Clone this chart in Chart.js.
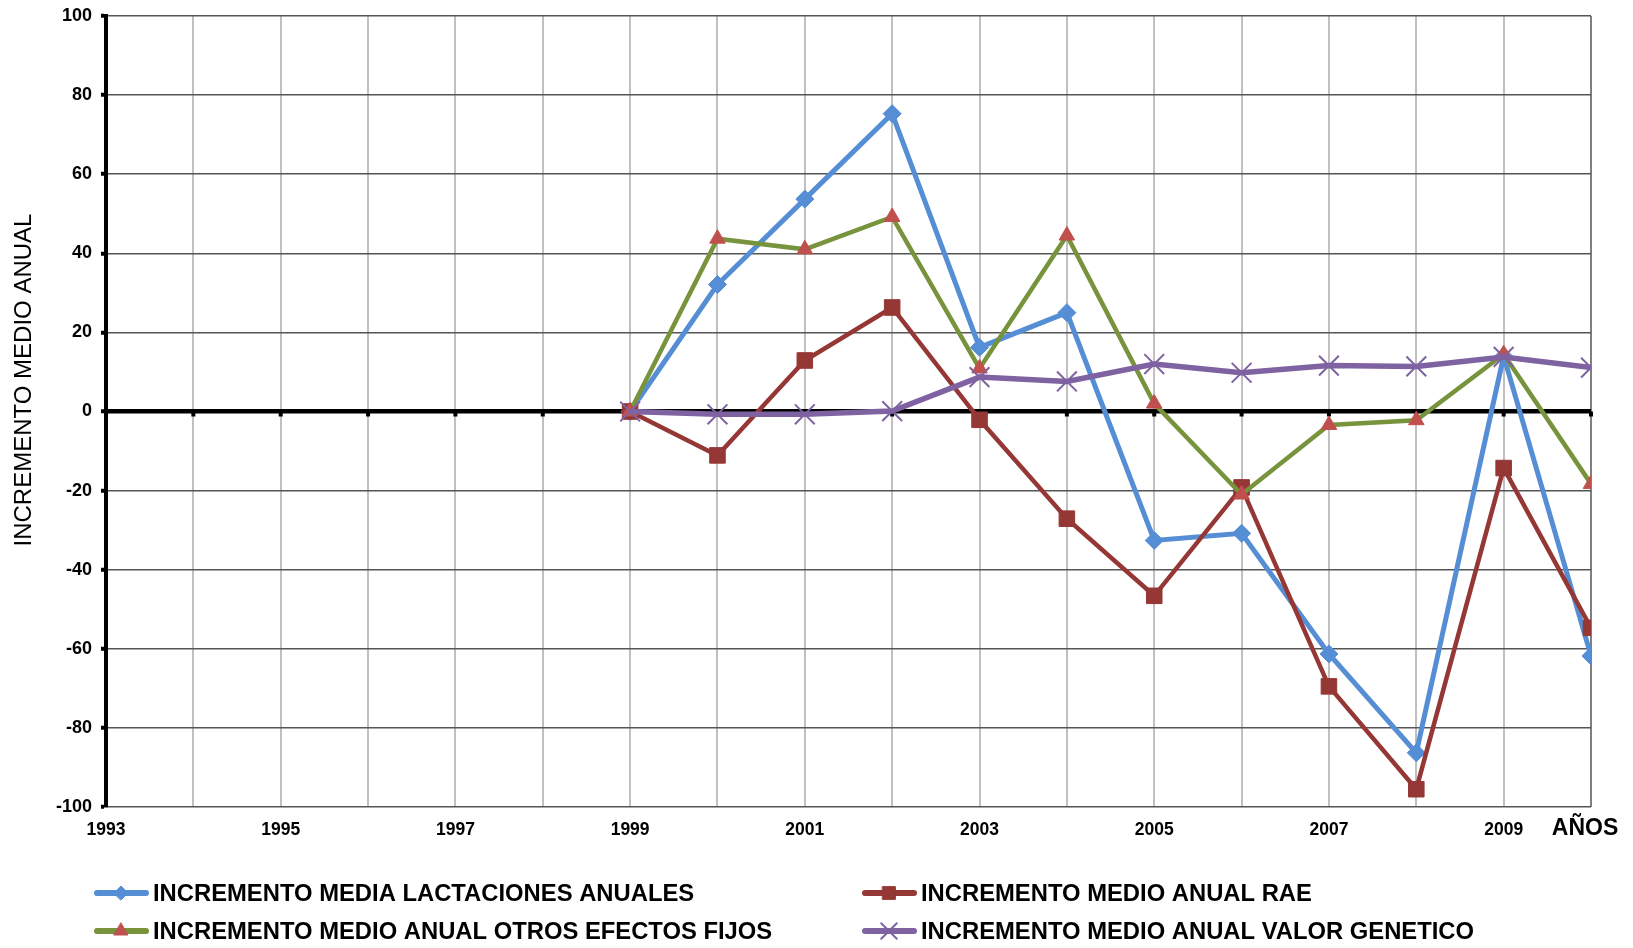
<!DOCTYPE html>
<html>
<head>
<meta charset="utf-8">
<script src="https://cdn.jsdelivr.net/npm/chart.js@4.4.1/dist/chart.umd.min.js"></script>
<style>
  html, body { margin: 0; padding: 0; background: #fff; }
  #wrap { width: 1633px; height: 948px; }
</style>
</head>
<body>
<div id="wrap"><canvas id="c" width="1633" height="948"></canvas></div>
<script>
// Years with data
const years = [1999, 2000, 2001, 2002, 2003, 2004, 2005, 2006, 2007, 2008, 2009, 2010];

// Annual increments per series
const lactaciones = [0, 32.1, 53.7, 75.3, 16.2, 25.0, -32.6, -30.8, -61.3, -86.3, 14.0, -61.8];
const rae         = [0, -11.1, 12.9, 26.3, -2.1, -27.1, -46.6, -19.2, -69.5, -95.5, -14.3, -54.7];
const otros       = [0, 43.7, 41.0, 49.2, 10.9, 44.5, 2.0, -21.0, -3.4, -2.2, 14.5, -18.3];
const genetico    = [0, -0.7, -0.7, 0.1, 8.7, 7.6, 12.0, 9.8, 11.6, 11.4, 13.8, 11.1];

const seriesNames = [
  'INCREMENTO MEDIA LACTACIONES ANUALES',
  'INCREMENTO MEDIO ANUAL RAE',
  'INCREMENTO MEDIO ANUAL OTROS EFECTOS FIJOS',
  'INCREMENTO MEDIO ANUAL VALOR GENETICO'
];

// Axis ranges and labels
const xMin = 1993, xMax = 2010;
const yMin = -100, yMax = 100, yStep = 20;
const xTitle = 'AÑOS';
const yTitle = 'INCREMENTO MEDIO ANUAL';

const FONT = "'Liberation Sans', Arial, sans-serif";

const toPoints = vals => vals.map((v, i) => ({ x: years[i], y: v }));

const BLUE = '#558ED5', RED = '#953735', GREEN = '#77933C', PURPLE = '#7F62A1', TRI = '#C0504D';

const datasets = [
  { label: seriesNames[0], data: toPoints(lactaciones), borderColor: BLUE, borderWidth: 5,
    pointStyle: 'rectRot', pointRadius: 9, pointBackgroundColor: BLUE, pointBorderColor: BLUE, pointBorderWidth: 1, order: 4,
    legendRadius: 7 },
  { label: seriesNames[1], data: toPoints(rae), borderColor: RED, borderWidth: 4.5,
    pointStyle: 'rect', pointRadius: 11, pointBackgroundColor: RED, pointBorderColor: RED, pointBorderWidth: 1, order: 3,
    legendRadius: 9 },
  { label: seriesNames[2], data: toPoints(otros), borderColor: GREEN, borderWidth: 4.5,
    pointStyle: 'triangle', pointRadius: 9, pointBackgroundColor: TRI, pointBorderColor: TRI, pointBorderWidth: 1, order: 2,
    legendRadius: 8 },
  { label: seriesNames[3], data: toPoints(genetico), borderColor: PURPLE, borderWidth: 5.5,
    pointStyle: 'crossRot', pointRadius: 14, pointBackgroundColor: PURPLE, pointBorderColor: PURPLE, pointBorderWidth: 2, order: 1,
    legendRadius: 11 }
];

// Small black tick marks along the zero line
const zeroTicks = {
  id: 'zeroTicks',
  beforeDatasetsDraw(chart) {
    const { ctx, scales: { x, y } } = chart;
    const y0 = y.getPixelForValue(0);
    ctx.save();
    ctx.fillStyle = '#000';
    for (let yr = xMin + 1; yr <= xMax; yr++) {
      const px = x.getPixelForValue(yr);
      ctx.fillRect(px - 2, y0, 4, 5);
    }
    ctx.restore();
  }
};

// Axis titles: rotated y title on the left, x title at the right end of the axis
const axisTitles = {
  id: 'axisTitles',
  afterDraw(chart) {
    const { ctx, chartArea } = chart;
    ctx.save();
    ctx.fillStyle = '#000';
    ctx.textAlign = 'center';
    ctx.textBaseline = 'middle';
    ctx.font = 'bold 23px ' + FONT;
    ctx.fillText(xTitle, chartArea.right - 6, chartArea.bottom + 22);
    ctx.translate(24, 380);
    ctx.rotate(-Math.PI / 2);
    ctx.font = '24px ' + FONT;
    ctx.fillText(yTitle, 0, 0);
    ctx.restore();
  }
};

// Two-column legend beneath the plot
const legendPlugin = {
  id: 'twoColLegend',
  afterDraw(chart) {
    const ctx = chart.ctx;
    const slots = [[94, 893], [862, 893], [94, 931], [862, 931]];
    chart.data.datasets.forEach((ds, i) => {
      const [x, y] = slots[i];
      ctx.save();
      ctx.strokeStyle = ds.borderColor;
      ctx.lineWidth = 6;
      ctx.lineCap = 'round';
      ctx.beginPath();
      ctx.moveTo(x + 3, y);
      ctx.lineTo(x + 52, y);
      ctx.stroke();
      ctx.fillStyle = ds.pointBackgroundColor;
      ctx.strokeStyle = ds.pointBorderColor;
      ctx.lineWidth = ds.pointBorderWidth;
      Chart.helpers.drawPoint(ctx, { pointStyle: ds.pointStyle, radius: ds.legendRadius, borderWidth: ds.pointBorderWidth, rotation: 0 }, x + 27, y);
      ctx.fillStyle = '#000';
      ctx.font = 'bold 23.8px ' + FONT;
      ctx.textAlign = 'left';
      ctx.textBaseline = 'middle';
      ctx.fillText(ds.label, x + 59, y + 1);
      ctx.restore();
    });
  }
};

new Chart(document.getElementById('c'), {
  type: 'line',
  data: { datasets },
  options: {
    responsive: false,
    animation: false,
    events: [],
    layout: { padding: { top: 15, right: 42, left: 0, bottom: 0 } },
    elements: { line: { tension: 0, fill: false } },
    plugins: { legend: { display: false }, tooltip: { enabled: false } },
    scales: {
      x: {
        type: 'linear',
        min: xMin, max: xMax,
        afterFit(scale) {
          scale.height = 141;
          scale.paddingLeft = 0;
          scale.paddingRight = 0;
        },
        border: { display: false },
        grid: {
          drawTicks: false,
          color: c => (c.tick && c.tick.value === xMax) ? '#808080' : '#c0c0c0',
          lineWidth: 2
        },
        ticks: {
          stepSize: 1,
          autoSkip: false,
          maxRotation: 0,
          padding: 13,
          color: '#000',
          font: { family: FONT, size: 17.5, weight: 'bold' },
          callback: v => (v % 2 === 1 ? String(v) : '')
        }
      },
      y: {
        min: yMin, max: yMax,
        afterFit(scale) {
          scale.width = 106;
          scale.paddingTop = 0;
          scale.paddingBottom = 0;
        },
        border: { display: true, color: '#000', width: 4 },
        grid: {
          color: c => (c.tick && c.tick.value === 0) ? '#000' : '#555',
          lineWidth: c => (c.tick && c.tick.value === 0) ? 4.5 : 1.5,
          drawTicks: true,
          tickLength: 5,
          tickColor: '#000',
          tickWidth: 4
        },
        ticks: {
          stepSize: yStep,
          padding: 9,
          color: '#000',
          font: { family: FONT, size: 18, weight: 'bold' }
        }
      }
    }
  },
  plugins: [zeroTicks, axisTitles, legendPlugin]
});
</script>
</body>
</html>
